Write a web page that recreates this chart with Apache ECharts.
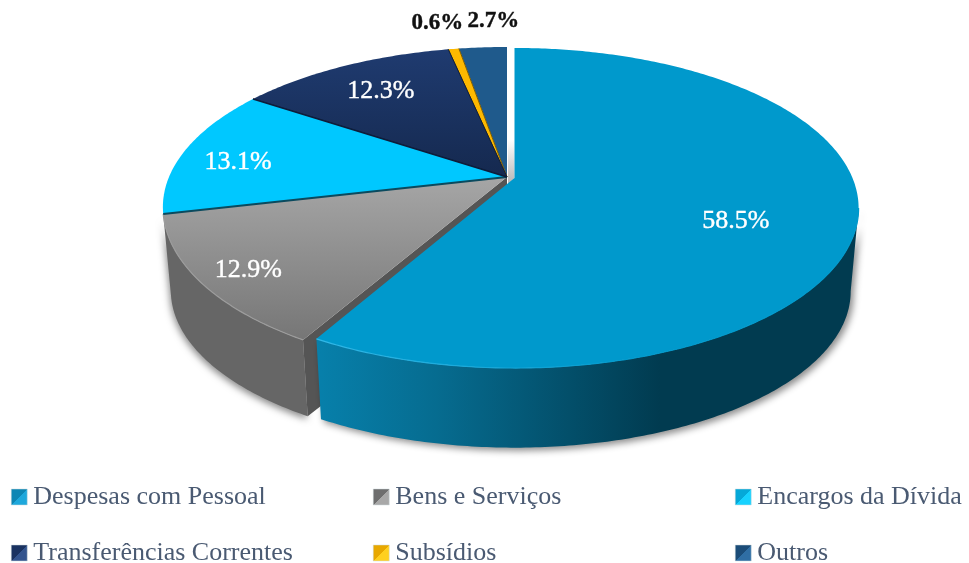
<!DOCTYPE html>
<html><head><meta charset="utf-8">
<style>html,body{margin:0;padding:0;background:#fff}#c{width:969px;height:563px}</style>
<script src="https://cdn.jsdelivr.net/npm/echarts@6/dist/echarts.min.js"></script>
</head><body><div id="c"></div>
<script>
const categories = ['Despesas com Pessoal','Bens e Serviços','Encargos da Dívida','Transferências Correntes','Subsídios','Outros'];
const values = [58.5,12.9,13.1,12.3,0.6,2.7];
const valueLabels = ['58.5%','12.9%','13.1%','12.3%','0.6%','2.7%'];

const topColors = [
  '#0099cc',
  {type:'linear',x:0,y:0,x2:0,y2:1,colorStops:[{offset:0,color:'#a6a6a6'},{offset:1,color:'#767676'}]},
  '#00c8ff',
  {type:'linear',x:0,y:0,x2:0,y2:1,colorStops:[{offset:0,color:'#1f3b70'},{offset:1,color:'#15294f'}]},
  '#fdb900',
  '#1f5a8c'
];
const wallColors = [
  {type:'linear',global:true,x:316,y:0,x2:660,y2:0,colorStops:[{offset:0,color:'#0780ab'},{offset:0.35,color:'#066c90'},{offset:1,color:'#013b50'}]},
  '#666666',null,null,null,null
];
const edgeColors = [null,null,'#0b4a5e','#0e1d3a','#7a5a00',null];
const rimColors = [
  {type:'linear',global:true,x:316,y:0,x2:640,y2:0,colorStops:[{offset:0,color:'#30b8e8'},{offset:1,color:'#0099cc'}]},
  '#9c9c9c',null,null,null,null];
const legendSwatch = [['#1ea8dc','#0d86b4'],['#a8a8a8','#6e6e6e'],['#17d2ff','#05a8d8'],['#33548e','#1a3260'],['#ffd020','#e8a800'],['#2f6ea4','#1b4c78']];
const legendLeft = [11,373,735,11,373,735];
const legendTop = [484,484,484,540,540,540];
const labelNudge = [[2,17],[-36,17],[-10,7],[-7,-5],[-4,3],[16,3]];
const labelRadius = [0.65,0.75,0.8,0.7,1.28,1.28];
const labelFg = ['#fff','#fff','#fff','#fff','#111','#111'];
const labelFont = ['26px','26px','26px','26px','bold 23px','bold 23px'];

const FONT = '"Liberation Serif",serif';
const R = 338, S = 154.4, PERSP = 0.1875, DEEP_K = 0.977, DEEP_Y = 84;
const EXPLODE_TRIM = 0.018;
const apexes = [{x:514.5,y:178,sag:0},{x:507,y:177,sag:6.3},{x:507,y:177,sag:0},{x:507,y:177,sag:0},{x:507,y:177,sag:0},{x:507,y:177,sag:0}];
const SAG_FROM = 0.225;
const RIGHT_TANGENT = Math.acos(-PERSP);

const total = values.reduce((a,b)=>a+b,0);
const starts = []; let acc = 0;
values.forEach(v=>{starts.push(acc/total*Math.PI*2); acc+=v;});

function proj(a, ang, deep, r){
  const rr = r===undefined?1:r;
  const u = Math.sin(ang)*rr, v = -Math.cos(ang)*rr, w = 1-PERSP*v;
  const k = deep?DEEP_K:1, dy = deep?DEEP_Y:0;
  const sag = deep?0:a.sag*Math.max(0,v-SAG_FROM);
  return [a.x+k*R*u/w, a.y+dy+sag+k*S*v/w];
}
function arc(a,s,e,deep){
  const n = Math.max(4,Math.ceil((e-s)/0.012)); const pts=[];
  for(let i=0;i<=n;i++) pts.push(proj(a,s+(e-s)*i/n,deep));
  return pts;
}
function renderSlice(i){
  return function(params,api){
    const val = api.value(0);
    const a = apexes[i];
    const s = starts[i], e = s+val/total*Math.PI*2-(i===0?EXPLODE_TRIM:0);
    const kids = [];
    const topArc = arc(a,s,e,false);
    const apexBot = [a.x,a.y+DEEP_Y];
    if(wallColors[i]){
      const ws = Math.max(s,RIGHT_TANGENT);
      const wt = arc(a,ws,e,false), wb = arc(a,ws,e,true);
      kids.push({type:'polygon',shape:{points:wt.concat(wb.slice().reverse())},
        style:{fill:wallColors[i],shadowBlur:7,shadowColor:'rgba(0,0,0,0.45)',shadowOffsetX:(i===0?3:-1),shadowOffsetY:3}});
      if(i===1){
        kids.push({type:'polygon',shape:{points:[[a.x,a.y],wt[0],wb[0],apexBot]},style:{fill:'#555555'}});
      }
    }
    kids.push({type:'polygon',shape:{points:[[a.x,a.y]].concat(topArc)},style:{fill:topColors[i]}});
    if(rimColors[i]){
      const rs = Math.max(s,RIGHT_TANGENT);
      kids.push({type:'polyline',shape:{points:arc(a,rs,e,false)},style:{fill:null,stroke:rimColors[i],lineWidth:1.2}});
    }
    if(edgeColors[i]){
      const last = topArc[topArc.length-1];
      kids.push({type:'line',shape:{x1:a.x,y1:a.y,x2:topArc[0][0],y2:topArc[0][1]},style:{stroke:edgeColors[i],lineWidth:i===2?2:1}});
      kids.push({type:'line',shape:{x1:a.x,y1:a.y,x2:last[0],y2:last[1]},style:{stroke:i===2?edgeColors[3]:edgeColors[i],lineWidth:i===2?1.5:1}});
    }
    if(i===0){
      kids.unshift({type:'polygon',shape:{points:[[apexes[5].x+1,a.y-38],[a.x,a.y-38],[a.x,a.y],[apexes[5].x+1,a.y+7]]},
        style:{fill:{type:'linear',x:0,y:0,x2:0,y2:1,colorStops:[{offset:0,color:'#ffffff'},{offset:1,color:'#b4b4b4'}]}}});
    }
    const mid = (s+e)/2, lp = proj(a,mid,false,labelRadius[i]);
    kids.push({type:'text',z2:50,style:{text:valueLabels[i],x:lp[0]+labelNudge[i][0],y:lp[1]+labelNudge[i][1],
      align:'center',verticalAlign:'middle',font:labelFont[i]+' '+FONT,fill:labelFg[i],stroke:labelFg[i],lineWidth:0.4}});
    return {type:'group',children:kids};
  };
}
// drawn back to front; Encargos after Bens so its dark edge stays on top
const drawOrder = [5,4,3,1,2,0];
const series = drawOrder.map(i=>({
  type:'custom',name:categories[i],coordinateSystem:'none',silent:true,animation:false,clip:false,
  itemStyle:{color:legendSwatch[i][1]},
  data:[[values[i]]],encode:{value:0},renderItem:renderSlice(i)
}));
const legend = categories.map((n,i)=>({
  data:[n],left:legendLeft[i],top:legendTop[i],orient:'horizontal',padding:0,
  itemWidth:16,itemHeight:16,itemGap:0,icon:'rect',selectedMode:false,
  itemStyle:{color:{type:'linear',x:0,y:0,x2:1,y2:1,colorStops:[{offset:0,color:legendSwatch[i][1]},{offset:0.5,color:legendSwatch[i][1]},{offset:0.5,color:legendSwatch[i][0]},{offset:1,color:legendSwatch[i][0]}]},borderColor:'#cfd8dc',borderWidth:0.5},
  textStyle:{fontFamily:FONT,fontSize:26,color:'#4a5a72',padding:[0,0,0,1]}
}));
const chart = echarts.init(document.getElementById('c'),null,{renderer:'canvas'});
chart.setOption({animation:false,backgroundColor:'#fff',legend,series});
</script></body></html>
